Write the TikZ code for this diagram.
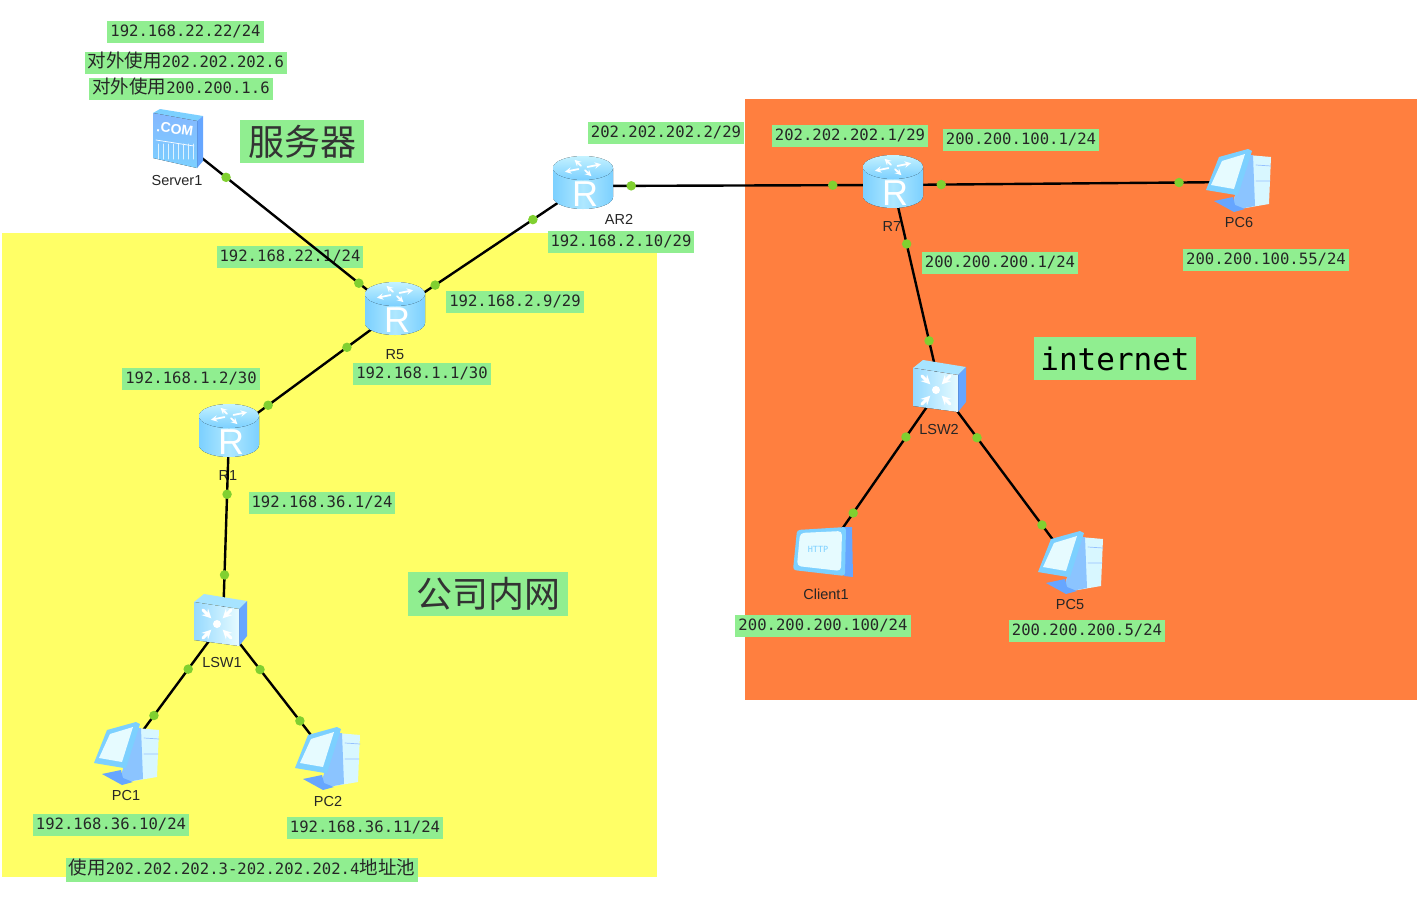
\documentclass[tikz,border=0pt]{standalone}
\usepackage{fontspec}
\setsansfont{Liberation Sans}
\setmonofont{DejaVu Sans Mono}
\newfontfamily\cjk{Noto Sans CJK SC}
\definecolor{lblgreen}{HTML}{90EE90}
\definecolor{zonein}{HTML}{FFFF66}
\definecolor{zoneout}{HTML}{FF7F3F}
\definecolor{portgreen}{HTML}{80D030}
\definecolor{iconblue}{HTML}{66A6FF}
\definecolor{iconsky}{HTML}{7CD0FF}
\definecolor{iconpale}{HTML}{C4F2FF}
\definecolor{iconwhite}{HTML}{E6FBFF}
\tikzset{
  iplabel/.style={fill=lblgreen,font=\ttfamily\fontsize{15.6}{18}\selectfont,text=black!85,inner xsep=3pt,inner ysep=0pt,minimum height=22pt,text height=11.5pt,text depth=3pt},
  biglabel/.style={fill=lblgreen,inner xsep=8pt,inner ysep=0pt,minimum height=43pt,text=black!80},
  devname/.style={font=\sffamily\fontsize{14.5}{16}\selectfont,text=black!85,inner sep=0pt},
  devspot/.style={inner sep=0pt,minimum size=0pt},
  link/.style={line width=2.4pt,black},
  portdot/.style={circle,fill=portgreen,inner sep=0pt,minimum size=9.5pt},
  routerpic/.pic={
    \fill[left color=iconsky,right color=iconsky,middle color=iconpale!70!iconsky] (-30,-18) -- (-30,11) arc[start angle=180,end angle=360,x radius=30pt,y radius=12pt] -- (30,-18) -- cycle;
    \fill[top color=iconpale,bottom color=iconsky] (0,-18) ellipse[x radius=30pt,y radius=12pt];
    \foreach \a in {25,115,205,295}
      \draw[white,line width=1.8pt,->,>=stealth] ([shift={(\a:5pt and 2.5pt)}]0,-18) -- ([shift={(\a:20pt and 9pt)}]0,-18);
    \node[font=\sffamily\fontsize{36}{36}\selectfont,text=white,inner sep=0pt] (-r) at (2,8) {R};
  },
  switchpic/.pic={
    \fill[iconpale!60!iconsky] (-27,-20) -- (-17,-28) -- (26,-21) -- (18,-13) -- cycle;
    \fill[iconblue] (18,-13) -- (26,-21) -- (26,14) -- (18,24) -- cycle;
    \fill[left color=iconsky!80!white,right color=iconwhite] (-27,-20) -- (18,-13) -- (18,24) -- (-27,18) -- cycle;
    \fill[white] (-4,2) circle (4pt);
    \foreach \a in {45,135,225,315}
      \draw[white,line width=3pt,->,>=stealth] ([shift={(\a:20pt)}]-4,2) -- ([shift={(\a:8pt)}]-4,2);
  },
  pcpic/.pic={
    \fill[iconwhite!60!iconpale] (9,-24) -- (32,-22) -- (30,25) -- (-5,31) -- (-5,20) -- cycle;
    \fill[iconblue!60!iconpale] (9,-24) -- (14,-24) -- (16,27) -- (-5,31) -- (-5,20) -- cycle;
    \draw[iconblue!70!white,line width=.7pt] (17,-14) -- (32,-13) (17,2) -- (31,2);
    \fill[iconblue] (-25,22) -- (-6,18) -- (-4,26) -- (6,30) -- (-5,33) -- cycle;
    \fill[iconsky] (-20,-22) -- (9,-30) -- (13,-28) -- (-1,16) -- (-3,16) -- (-33,11) -- cycle;
    \fill[iconwhite] (-17,-18) -- (6,-25) -- (-5,10) -- (-28,6) -- cycle;
  },
  serverpic/.pic={
    \fill[iconsky] (-25,-26) -- (-18,-30) -- (25,-23) -- (19,-18) -- cycle;
    \fill[iconblue] (19,-18) -- (25,-23) -- (25,22) -- (19,29) -- cycle;
    \fill[top color=iconblue!80!white,bottom color=iconsky] (-25,-26) -- (19,-18) -- (19,29) -- (-25,19) -- cycle;
    \node[font=\sffamily\bfseries\fontsize{14}{14}\selectfont,text=white,inner sep=0pt,rotate=-8] (-c) at (-3,-10) {.COM};
    \draw[white,line width=.7pt] (-22,1) -- (16,7);
    \foreach \i in {-20,-15,...,15}
      \draw[white!75!iconsky,line width=1pt] (\i,5) -- (\i,20);
  },
  clientpic/.pic={
    \fill[iconblue] (19,-25) -- (28,-25) -- (29,25) -- (20,24) -- cycle;
    \fill[iconsky,rounded corners=3pt] (-27,-22) -- (22,-25) -- (21,24) -- (-31,18) -- cycle;
    \fill[iconwhite,rounded corners=4pt] (-24,-19) -- (18,-21) -- (17,19) -- (-27,14) -- cycle;
    \node[font=\ttfamily\fontsize{8.5}{9}\selectfont,text=iconsky,inner sep=0pt] (-h) at (-6,-3) {HTTP};
  }
}
\begin{document}
\begin{tikzpicture}[x=1pt,y=-1pt,line join=round,line cap=round]
\useasboundingbox (0,0) rectangle (1417,897);
% zones
\fill[zonein] (2,233) rectangle (657,877);
\fill[zoneout] (745,99) rectangle (1417,700);
% addresses
\node[iplabel] (srvip) at (185.5,32) {192.168.22.22/24};
\node[iplabel] (srvnat) at (186,63) {{\cjk\fontsize{18.5}{18}\selectfont 对外使用}202.202.202.6};
\node[iplabel] (srvnatb) at (181,89) {{\cjk\fontsize{18.5}{18}\selectfont 对外使用}200.200.1.6};
\node[iplabel] (rfivetop) at (290,257) {192.168.22.1/24};
\node[iplabel] (rfiveright) at (515,302) {192.168.2.9/29};
\node[iplabel] (rfivedown) at (422,374) {192.168.1.1/30};
\node[iplabel] (roneup) at (191,379) {192.168.1.2/30};
\node[iplabel] (ronedown) at (322,503) {192.168.36.1/24};
\node[iplabel] (pconeip) at (111,825) {192.168.36.10/24};
\node[iplabel] (pctwoip) at (365,828) {192.168.36.11/24};
\node[iplabel,minimum height=24pt] (natpool) at (242,870) {{\cjk\fontsize{18.5}{18}\selectfont 使用}202.202.202.3-202.202.202.4{\cjk\fontsize{18.5}{18}\selectfont 地址池}};
\node[iplabel] (artwoout) at (666,133) {202.202.202.2/29};
\node[iplabel] (artwoin) at (621,242) {192.168.2.10/29};
\node[iplabel] (rsevenleft) at (850,136) {202.202.202.1/29};
\node[iplabel] (rsevenright) at (1021,140) {200.200.100.1/24};
\node[iplabel] (rsevendown) at (1000,263) {200.200.200.1/24};
\node[iplabel] (pcsixip) at (1266,260) {200.200.100.55/24};
\node[iplabel] (clientip) at (823,626) {200.200.200.100/24};
\node[iplabel] (pcfiveip) at (1087,631) {200.200.200.5/24};
% big titles
\node[biglabel,font=\cjk\fontsize{36}{36}\selectfont] (titleserver) at (302,141.5) {服务器};
\node[biglabel,font=\cjk\fontsize{36}{36}\selectfont,minimum height=44pt] (titlein) at (488,594) {公司内网};
\node[biglabel,font=\ttfamily\fontsize{31}{36}\selectfont,inner xsep=6pt,text=black] (titlenet) at (1115,358.5) {internet};
% device names
\node[devname] (nServer1) at (177,181) {Server1};
\node[devname] (nAR2) at (619,219) {AR2};
\node[devname] (nR5) at (395,355) {R5};
\node[devname] (nR1) at (228,476) {R1};
\node[devname] (nLSW1) at (222,663) {LSW1};
\node[devname] (nPC1) at (126,795) {PC1};
\node[devname] (nPC2) at (328,801) {PC2};
\node[devname] (nR7) at (892,227) {R7};
\node[devname] (nLSW2) at (939,430) {LSW2};
\node[devname] (nPC6) at (1239,223) {PC6};
\node[devname] (nClient1) at (826,594) {Client1};
\node[devname] (nPC5) at (1070,605) {PC5};
% devices
\node[devspot] (Server1) at (178,139) {};
\node[devspot] (R5) at (395,312) {};
\node[devspot] (AR2) at (583,186) {};
\node[devspot] (R1) at (229,434) {};
\node[devspot] (LSW1) at (223,622) {};
\node[devspot] (PC1) at (127,752) {};
\node[devspot] (PC2) at (328,757) {};
\node[devspot] (R7) at (893,185) {};
\node[devspot] (PC6) at (1239,182) {};
\node[devspot] (LSW2) at (940,388) {};
\node[devspot] (Client1) at (824,555) {};
\node[devspot] (PC5) at (1071,564) {};
% links
\draw[link] (Server1) -- node[portdot,pos=.221] (pa) {} node[portdot,pos=.834] (pb) {} (R5);
\draw[link] (R5) -- node[portdot,pos=.213] (pc) {} node[portdot,pos=.734] (pd) {} (AR2);
\draw[link] (R5) -- node[portdot,pos=.289] (pe) {} node[portdot,pos=.765] (pf) {} (R1);
\draw[link] (R1) -- node[portdot,pos=.32] (pg) {} node[portdot,pos=.75] (ph) {} (LSW1);
\draw[link] (LSW1) -- node[portdot,pos=.362] (pi) {} node[portdot,pos=.72] (pj) {} (PC1);
\draw[link] (LSW1) -- node[portdot,pos=.352] (pk) {} node[portdot,pos=.733] (pl) {} (PC2);
\draw[link] (AR2) -- node[portdot,pos=.155] (pm) {} node[portdot,pos=.806] (pn) {} (R7);
\draw[link] (R7) -- node[portdot,pos=.139] (po) {} node[portdot,pos=.827] (pp) {} (PC6);
\draw[link] (R7) -- node[portdot,pos=.29] (pq) {} node[portdot,pos=.768] (pr) {} (LSW2);
\draw[link] (LSW2) -- node[portdot,pos=.293] (ps) {} node[portdot,pos=.749] (pt) {} (Client1);
\draw[link] (LSW2) -- node[portdot,pos=.282] (pu) {} node[portdot,pos=.779] (pv) {} (PC5);
% icons
\pic (iServer1) at (Server1) {serverpic};
\pic (iR5) at (R5) {routerpic};
\pic (iAR2) at (AR2) {routerpic};
\pic (iR1) at (R1) {routerpic};
\pic (iR7) at (R7) {routerpic};
\pic (iLSW1) at ([xshift=-2pt]LSW1) {switchpic};
\pic (iLSW2) at (LSW2) {switchpic};
\pic (iPC1) at (PC1) {pcpic};
\pic (iPC2) at (PC2) {pcpic};
\pic (iPC5) at ([yshift=3pt]PC5) {pcpic};
\pic (iPC6) at ([yshift=3pt]PC6) {pcpic};
\pic (iClient1) at ([yshift=3pt]Client1) {clientpic};
\end{tikzpicture}
\end{document}
